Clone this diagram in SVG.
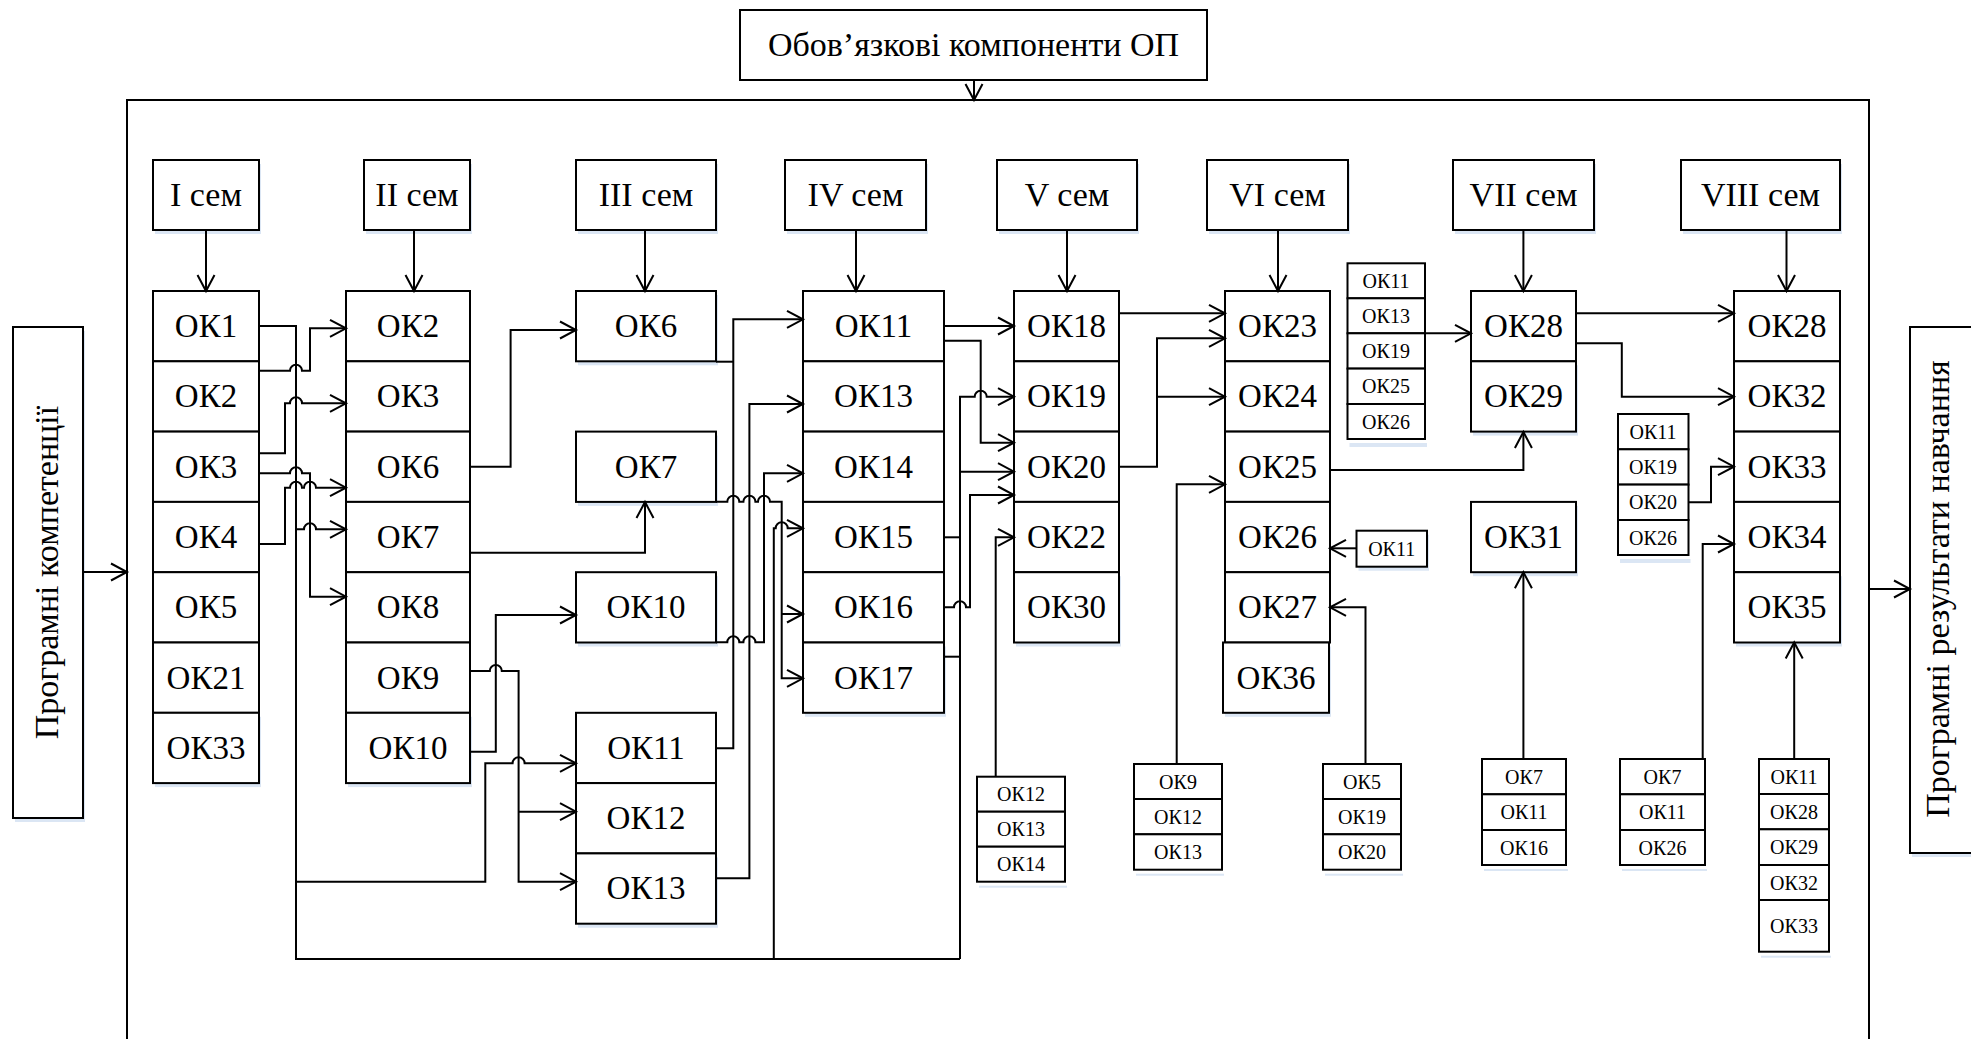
<svg xmlns="http://www.w3.org/2000/svg" width="1971" height="1039" viewBox="0 0 1971 1039">
<style>
.b{fill:#fff;stroke:#000;stroke-width:2}
.sh{fill:#dbe6f4;stroke:none}
.t{font-family:"Liberation Serif","Times New Roman",serif;font-size:33px;text-anchor:middle;fill:#000}
.ts{font-family:"Liberation Serif","Times New Roman",serif;font-size:34px;text-anchor:middle;fill:#000}
.tx{font-family:"Liberation Serif","Times New Roman",serif;font-size:20px;text-anchor:middle;fill:#000}
.c{fill:none;stroke:#000;stroke-width:2}
.a{marker-end:url(#arr)}
</style>
<defs>
<marker id="arr" markerUnits="userSpaceOnUse" viewBox="0 0 18 18" markerWidth="18" markerHeight="18" refX="17" refY="9" orient="auto" overflow="visible">
<path d="M1,0.5 L17,9 L1,17.5" fill="none" stroke="#000" stroke-width="2"/>
</marker>
</defs>
<rect width="1971" height="1039" fill="#fff"/>

<!-- frame -->
<g id="frame"><rect x="127" y="100" width="1742" height="980" fill="none" stroke="#000" stroke-width="2"/></g>

<g id="top-box"><rect class="b" x="740" y="10" width="467" height="70"/><text class="ts" x="973.5" y="56">Обов’язкові компоненти ОП</text></g>
<g id="in-box"><rect class="sh" x="15" y="331" width="70" height="491"/><rect class="b" x="13" y="327" width="70" height="491"/><text class="ts" transform="translate(58,572.5) rotate(-90)">Програмні компетенції</text></g>
<g id="out-box"><rect class="sh" x="1912" y="331" width="80" height="526"/><rect class="b" x="1910" y="327" width="80" height="526"/><text class="ts" transform="translate(1949,589) rotate(-90)">Програмні результати навчання</text></g>

<!-- semester headers -->
<g id="sem1"><rect class="sh" x="155" y="164" width="106" height="70"/><rect class="b" x="153" y="160" width="106" height="70"/><text class="ts" x="206" y="206">I сем</text></g>
<g id="sem2"><rect class="sh" x="366" y="164" width="106" height="70"/><rect class="b" x="364" y="160" width="106" height="70"/><text class="ts" x="417" y="206">II сем</text></g>
<g id="sem3"><rect class="sh" x="578" y="164" width="140" height="70"/><rect class="b" x="576" y="160" width="140" height="70"/><text class="ts" x="646" y="206">III сем</text></g>
<g id="sem4"><rect class="sh" x="787" y="164" width="141" height="70"/><rect class="b" x="785" y="160" width="141" height="70"/><text class="ts" x="855.5" y="206">IV сем</text></g>
<g id="sem5"><rect class="sh" x="999" y="164" width="140" height="70"/><rect class="b" x="997" y="160" width="140" height="70"/><text class="ts" x="1067" y="206">V сем</text></g>
<g id="sem6"><rect class="sh" x="1209" y="164" width="141" height="70"/><rect class="b" x="1207" y="160" width="141" height="70"/><text class="ts" x="1277.5" y="206">VI сем</text></g>
<g id="sem7"><rect class="sh" x="1455" y="164" width="141" height="70"/><rect class="b" x="1453" y="160" width="141" height="70"/><text class="ts" x="1523.5" y="206">VII сем</text></g>
<g id="sem8"><rect class="sh" x="1683" y="164" width="159" height="70"/><rect class="b" x="1681" y="160" width="159" height="70"/><text class="ts" x="1760.5" y="206">VIII сем</text></g>

<!-- column I -->
<g id="c1-ok1"><rect class="b" x="153" y="291" width="106" height="70.3"/><text class="t" x="206" y="337">ОК1</text></g>
<g id="c1-ok2"><rect class="b" x="153" y="361.3" width="106" height="70.3"/><text class="t" x="206" y="407.3">ОК2</text></g>
<g id="c1-ok3"><rect class="b" x="153" y="431.6" width="106" height="70.3"/><text class="t" x="206" y="477.6">ОК3</text></g>
<g id="c1-ok4"><rect class="b" x="153" y="501.9" width="106" height="70.3"/><text class="t" x="206" y="547.9">ОК4</text></g>
<g id="c1-ok5"><rect class="b" x="153" y="572.2" width="106" height="70.3"/><text class="t" x="206" y="618.2">ОК5</text></g>
<g id="c1-ok21"><rect class="b" x="153" y="642.5" width="106" height="70.3"/><text class="t" x="206" y="688.5">ОК21</text></g>
<g id="c1-ok33"><rect class="sh" x="155" y="716.8" width="106" height="70.3"/><rect class="b" x="153" y="712.8" width="106" height="70.3"/><text class="t" x="206" y="758.8">ОК33</text></g>

<!-- column II -->
<g id="c2-ok2"><rect class="b" x="346" y="291" width="124" height="70.3"/><text class="t" x="408" y="337">ОК2</text></g>
<g id="c2-ok3"><rect class="b" x="346" y="361.3" width="124" height="70.3"/><text class="t" x="408" y="407.3">ОК3</text></g>
<g id="c2-ok6"><rect class="b" x="346" y="431.6" width="124" height="70.3"/><text class="t" x="408" y="477.6">ОК6</text></g>
<g id="c2-ok7"><rect class="b" x="346" y="501.9" width="124" height="70.3"/><text class="t" x="408" y="547.9">ОК7</text></g>
<g id="c2-ok8"><rect class="b" x="346" y="572.2" width="124" height="70.3"/><text class="t" x="408" y="618.2">ОК8</text></g>
<g id="c2-ok9"><rect class="b" x="346" y="642.5" width="124" height="70.3"/><text class="t" x="408" y="688.5">ОК9</text></g>
<g id="c2-ok10"><rect class="sh" x="348" y="716.8" width="124" height="70.3"/><rect class="b" x="346" y="712.8" width="124" height="70.3"/><text class="t" x="408" y="758.8">ОК10</text></g>

<!-- column III -->
<g id="c3-ok6"><rect class="sh" x="578" y="295" width="140" height="70.3"/><rect class="b" x="576" y="291" width="140" height="70.3"/><text class="t" x="646" y="337">ОК6</text></g>
<g id="c3-ok7"><rect class="sh" x="578" y="435.6" width="140" height="70.3"/><rect class="b" x="576" y="431.6" width="140" height="70.3"/><text class="t" x="646" y="477.6">ОК7</text></g>
<g id="c3-ok10"><rect class="sh" x="578" y="576.2" width="140" height="70.3"/><rect class="b" x="576" y="572.2" width="140" height="70.3"/><text class="t" x="646" y="618.2">ОК10</text></g>
<g id="c3-ok11"><rect class="b" x="576" y="712.8" width="140" height="70.3"/><text class="t" x="646" y="758.8">ОК11</text></g>
<g id="c3-ok12"><rect class="b" x="576" y="783.1" width="140" height="70.3"/><text class="t" x="646" y="829.1">ОК12</text></g>
<g id="c3-ok13"><rect class="sh" x="578" y="857.4" width="140" height="70.3"/><rect class="b" x="576" y="853.4" width="140" height="70.3"/><text class="t" x="646" y="899.4">ОК13</text></g>

<!-- column IV -->
<g id="c4-ok11"><rect class="b" x="803" y="291" width="141" height="70.3"/><text class="t" x="873.5" y="337">ОК11</text></g>
<g id="c4-ok13"><rect class="b" x="803" y="361.3" width="141" height="70.3"/><text class="t" x="873.5" y="407.3">ОК13</text></g>
<g id="c4-ok14"><rect class="b" x="803" y="431.6" width="141" height="70.3"/><text class="t" x="873.5" y="477.6">ОК14</text></g>
<g id="c4-ok15"><rect class="b" x="803" y="501.9" width="141" height="70.3"/><text class="t" x="873.5" y="547.9">ОК15</text></g>
<g id="c4-ok16"><rect class="b" x="803" y="572.2" width="141" height="70.3"/><text class="t" x="873.5" y="618.2">ОК16</text></g>
<g id="c4-ok17"><rect class="sh" x="805" y="646.5" width="141" height="70.3"/><rect class="b" x="803" y="642.5" width="141" height="70.3"/><text class="t" x="873.5" y="688.5">ОК17</text></g>

<!-- column V -->
<g id="c5-ok18"><rect class="b" x="1014" y="291" width="105" height="70.3"/><text class="t" x="1066.5" y="337">ОК18</text></g>
<g id="c5-ok19"><rect class="b" x="1014" y="361.3" width="105" height="70.3"/><text class="t" x="1066.5" y="407.3">ОК19</text></g>
<g id="c5-ok20"><rect class="b" x="1014" y="431.6" width="105" height="70.3"/><text class="t" x="1066.5" y="477.6">ОК20</text></g>
<g id="c5-ok22"><rect class="b" x="1014" y="501.9" width="105" height="70.3"/><text class="t" x="1066.5" y="547.9">ОК22</text></g>
<g id="c5-ok30"><rect class="sh" x="1016" y="576.2" width="105" height="70.3"/><rect class="b" x="1014" y="572.2" width="105" height="70.3"/><text class="t" x="1066.5" y="618.2">ОК30</text></g>

<!-- column VI -->
<g id="c6-ok23"><rect class="b" x="1225" y="291" width="105" height="70.3"/><text class="t" x="1277.5" y="337">ОК23</text></g>
<g id="c6-ok24"><rect class="b" x="1225" y="361.3" width="105" height="70.3"/><text class="t" x="1277.5" y="407.3">ОК24</text></g>
<g id="c6-ok25"><rect class="b" x="1225" y="431.6" width="105" height="70.3"/><text class="t" x="1277.5" y="477.6">ОК25</text></g>
<g id="c6-ok26"><rect class="b" x="1225" y="501.9" width="105" height="70.3"/><text class="t" x="1277.5" y="547.9">ОК26</text></g>
<g id="c6-ok27"><rect class="b" x="1225" y="572.2" width="105" height="70.3"/><text class="t" x="1277.5" y="618.2">ОК27</text></g>
<g id="c6-ok36"><rect class="sh" x="1225" y="646.5" width="106" height="70.3"/><rect class="b" x="1223" y="642.5" width="106" height="70.3"/><text class="t" x="1276" y="688.5">ОК36</text></g>

<!-- column VII -->
<g id="c7-ok28"><rect class="b" x="1471" y="291" width="105" height="70.3"/><text class="t" x="1523.5" y="337">ОК28</text></g>
<g id="c7-ok29"><rect class="sh" x="1473" y="365.3" width="105" height="70.3"/><rect class="b" x="1471" y="361.3" width="105" height="70.3"/><text class="t" x="1523.5" y="407.3">ОК29</text></g>
<g id="c7-ok31"><rect class="sh" x="1473" y="505.9" width="105" height="70.3"/><rect class="b" x="1471" y="501.9" width="105" height="70.3"/><text class="t" x="1523.5" y="547.9">ОК31</text></g>

<!-- column VIII -->
<g id="c8-ok28"><rect class="b" x="1734" y="291" width="106" height="70.3"/><text class="t" x="1787" y="337">ОК28</text></g>
<g id="c8-ok32"><rect class="b" x="1734" y="361.3" width="106" height="70.3"/><text class="t" x="1787" y="407.3">ОК32</text></g>
<g id="c8-ok33"><rect class="b" x="1734" y="431.6" width="106" height="70.3"/><text class="t" x="1787" y="477.6">ОК33</text></g>
<g id="c8-ok34"><rect class="b" x="1734" y="501.9" width="106" height="70.3"/><text class="t" x="1787" y="547.9">ОК34</text></g>
<g id="c8-ok35"><rect class="sh" x="1736" y="576.2" width="106" height="70.3"/><rect class="b" x="1734" y="572.2" width="106" height="70.3"/><text class="t" x="1787" y="618.2">ОК35</text></g>

<!-- small stacks -->
<g id="s1">
<rect class="sh" x="1349.5" y="443" width="77.5" height="4"/>
<rect class="b" x="1347.5" y="263.3" width="77.5" height="35"/><text class="tx" x="1386" y="287.8">ОК11</text>
<rect class="b" x="1347.5" y="298.3" width="77.5" height="35"/><text class="tx" x="1386" y="322.8">ОК13</text>
<rect class="b" x="1347.5" y="333.3" width="77.5" height="35.3"/><text class="tx" x="1386" y="358">ОК19</text>
<rect class="b" x="1347.5" y="368.6" width="77.5" height="35.4"/><text class="tx" x="1386" y="393.3">ОК25</text>
<rect class="b" x="1347.5" y="404" width="77.5" height="35"/><text class="tx" x="1386" y="428.5">ОК26</text>
</g>
<g id="s2">
<rect class="sh" x="1620" y="559" width="70.5" height="4"/>
<rect class="b" x="1618" y="414" width="70.5" height="35.3"/><text class="tx" x="1653" y="438.6">ОК11</text>
<rect class="b" x="1618" y="449.3" width="70.5" height="35.3"/><text class="tx" x="1653" y="474">ОК19</text>
<rect class="b" x="1618" y="484.6" width="70.5" height="35.4"/><text class="tx" x="1653" y="509.3">ОК20</text>
<rect class="b" x="1618" y="520" width="70.5" height="35"/><text class="tx" x="1653" y="544.5">ОК26</text>
</g>
<g id="s3"><rect class="sh" x="1358.5" y="534.7" width="70.5" height="36"/><rect class="b" x="1356.5" y="530.7" width="70.5" height="36"/><text class="tx" x="1391.7" y="555.7">ОК11</text></g>
<g id="s4">
<rect class="sh" x="979" y="885.7" width="88" height="2"/>
<rect class="b" x="977" y="776.7" width="88" height="35"/><text class="tx" x="1021" y="801.2">ОК12</text>
<rect class="b" x="977" y="811.7" width="88" height="35"/><text class="tx" x="1021" y="836.2">ОК13</text>
<rect class="b" x="977" y="846.7" width="88" height="35"/><text class="tx" x="1021" y="871.2">ОК14</text>
</g>
<g id="s5">
<rect class="sh" x="1136" y="873.7" width="88" height="2"/>
<rect class="b" x="1134" y="764" width="88" height="35"/><text class="tx" x="1178" y="788.5">ОК9</text>
<rect class="b" x="1134" y="799" width="88" height="35.3"/><text class="tx" x="1178" y="823.6">ОК12</text>
<rect class="b" x="1134" y="834.3" width="88" height="35.4"/><text class="tx" x="1178" y="859">ОК13</text>
</g>
<g id="s6">
<rect class="sh" x="1325" y="873.7" width="78" height="2"/>
<rect class="b" x="1323" y="764" width="78" height="35"/><text class="tx" x="1362" y="788.5">ОК5</text>
<rect class="b" x="1323" y="799" width="78" height="35.3"/><text class="tx" x="1362" y="823.6">ОК19</text>
<rect class="b" x="1323" y="834.3" width="78" height="35.4"/><text class="tx" x="1362" y="859">ОК20</text>
</g>
<g id="s7">
<rect class="sh" x="1484" y="869" width="84" height="2"/>
<rect class="b" x="1482" y="759" width="84" height="35.3"/><text class="tx" x="1524" y="783.6">ОК7</text>
<rect class="b" x="1482" y="794.3" width="84" height="35.7"/><text class="tx" x="1524" y="819">ОК11</text>
<rect class="b" x="1482" y="830" width="84" height="35"/><text class="tx" x="1524" y="854.5">ОК16</text>
</g>
<g id="s8">
<rect class="sh" x="1622" y="869" width="85" height="2"/>
<rect class="b" x="1620" y="759" width="85" height="35.3"/><text class="tx" x="1662.5" y="783.6">ОК7</text>
<rect class="b" x="1620" y="794.3" width="85" height="35.7"/><text class="tx" x="1662.5" y="819">ОК11</text>
<rect class="b" x="1620" y="830" width="85" height="35"/><text class="tx" x="1662.5" y="854.5">ОК26</text>
</g>
<g id="s9">
<rect class="sh" x="1761" y="955.7" width="70" height="2"/>
<rect class="b" x="1759" y="759" width="70" height="35"/><text class="tx" x="1794" y="783.5">ОК11</text>
<rect class="b" x="1759" y="794" width="70" height="35.3"/><text class="tx" x="1794" y="818.6">ОК28</text>
<rect class="b" x="1759" y="829.3" width="70" height="35.7"/><text class="tx" x="1794" y="854">ОК29</text>
<rect class="b" x="1759" y="865" width="70" height="35"/><text class="tx" x="1794" y="889.5">ОК32</text>
<rect class="b" x="1759" y="900" width="70" height="51.7"/><text class="tx" x="1794" y="933">ОК33</text>
</g>

<!-- connectors -->
<g id="connectors">
<path class="c a" d="M974,80 V100"/>
<path class="c a" d="M83,572 H127"/>
<path class="c a" d="M1869,589 H1910"/>
<path class="c a" d="M206,230 V291"/>
<path class="c a" d="M414,230 V291"/>
<path class="c a" d="M645,230 V291"/>
<path class="c a" d="M856,230 V291"/>
<path class="c a" d="M1067,230 V291"/>
<path class="c a" d="M1278,230 V291"/>
<path class="c a" d="M1523.4,230 V291"/>
<path class="c a" d="M1786.5,230 V291"/>

<!-- I -> II -->
<path class="c" d="M259,326 H296 V959 H960"/>
<path class="c a" d="M296,529.3 H304 a6,6 0 0 1 12,0 H346"/>
<path class="c a" d="M296,881.7 H485.3 V763.3 H512.6 a6,6 0 0 1 12,0 H576"/>
<path class="c a" d="M259,370.7 H290 a6,6 0 0 1 12,0 H310 V328.3 H346"/>
<path class="c a" d="M259,453.3 H285 V403.3 H290 a6,6 0 0 1 12,0 H346"/>
<path class="c a" d="M259,473.3 H290 a6,6 0 0 1 12,0 H310 V596.7 H346"/>
<path class="c a" d="M259,544 H285 V487.7 H290 a6,6 0 0 1 12,0 H304 a6,6 0 0 1 12,0 H346"/>

<!-- II -> III -->
<path class="c a" d="M470,466.7 H510.6 V330 H576"/>
<path class="c a" d="M470,552.7 H645 V502"/>
<path class="c a" d="M470,671 H489.8 a6,6 0 0 1 12,0 H518.6 V881.7 H576"/>
<path class="c a" d="M518.6,811.7 H576"/>
<path class="c a" d="M470,751.7 H495.8 V615 H576"/>

<!-- III -> IV -->
<path class="c" d="M716,361.7 H733.3"/>
<path class="c a" d="M716,748.3 H733.3 V319.3 H803"/>
<path class="c a" d="M716,878.3 H749.4 V404 H803"/>
<path class="c a" d="M716,642.3 H727.3 a6,6 0 0 1 12,0 H743.4 a6,6 0 0 1 12,0 H764 V473.3 H803"/>
<path class="c a" d="M716,501.7 H727.3 a6,6 0 0 1 12,0 H743.4 a6,6 0 0 1 12,0 H758 a6,6 0 0 1 12,0 H781.7 V678.3 H803"/>
<path class="c a" d="M781.7,614 H803"/>
<path class="c a" d="M773.8,959 V528.3 H775.7 a6,6 0 0 1 12,0 H803"/>

<!-- IV -> V -->
<path class="c a" d="M944,326 H1014"/>
<path class="c a" d="M944,340.7 H980.7 V442.7 H1014"/>
<path class="c a" d="M960,959 V396.7 H974.7 a6,6 0 0 1 12,0 H1014"/>
<path class="c a" d="M960,471.7 H1014"/>
<path class="c" d="M944,537.3 H960"/>
<path class="c" d="M944,656.7 H960"/>
<path class="c a" d="M944,607.3 H954 a6,6 0 0 1 12,0 H970 V495 H1014"/>
<path class="c a" d="M995.7,776.7 V537.3 H1014"/>

<!-- V -> VI -->
<path class="c a" d="M1119,313.3 H1225"/>
<path class="c a" d="M1119,466.7 H1157 V338.3 H1225"/>
<path class="c a" d="M1157,396.7 H1225"/>
<path class="c a" d="M1176.7,764 V484.3 H1225"/>

<!-- VI -> VII -->
<path class="c a" d="M1330,470 H1523.4 V432"/>
<path class="c a" d="M1356.5,548.3 H1330"/>
<path class="c a" d="M1365.5,764 V607.3 H1330"/>
<path class="c a" d="M1425,333.3 H1471"/>
<path class="c a" d="M1523.4,759 V572.2"/>

<!-- VII -> VIII -->
<path class="c a" d="M1576,313.3 H1734"/>
<path class="c a" d="M1576,343.3 H1621.8 V396.7 H1734"/>
<path class="c a" d="M1688.5,502.3 H1711 V466.7 H1734"/>
<path class="c a" d="M1702.7,759 V544 H1734"/>
<path class="c a" d="M1794.2,759 V642.5"/>
</g>
</svg>
